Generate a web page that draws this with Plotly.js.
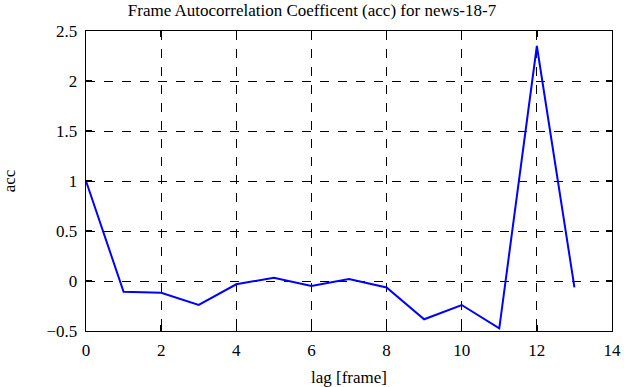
<!DOCTYPE html>
<html><head><meta charset="utf-8">
<script src="https://cdn.plot.ly/plotly-3.0.1.min.js"></script>
<style>html,body{margin:0;padding:0;background:#fff}#chart{width:624px;height:387px}</style>
</head><body><div id="chart"></div>
<script>
const lags = [0,1,2,3,4,5,6,7,8,9,10,11,12,13];
const acc = [1.0,-0.107,-0.117,-0.24,-0.033,0.033,-0.05,0.02,-0.065,-0.383,-0.24,-0.473,2.35,-0.063];
const titleText = 'Frame Autocorrelation Coefficent (acc) for news-18-7';
const xLabel = 'lag [frame]';
const yLabel = 'acc';
const fnt = 'Liberation Serif, Times New Roman, serif';
const axisCommon = {
  showline:true, linecolor:'#000', linewidth:1.3, mirror:'ticks',
  ticks:'inside', ticklen:6, tickcolor:'#000', tickwidth:1.3,
  showgrid:true, gridcolor:'#000', griddash:'dash', gridwidth:1,
  zeroline:false, tickfont:{family:fnt,size:17,color:'#000'}
};
Plotly.newPlot('chart',[{
  x:lags, y:acc, type:'scatter', mode:'lines',
  line:{color:'#0000ff', width:2}
}],{
  width:624, height:387,
  margin:{l:86,r:12,t:31,b:56},
  paper_bgcolor:'#fff', plot_bgcolor:'#fff',
  showlegend:false,
  title:{text:titleText, font:{family:fnt,size:17,color:'#000'}, x:0.5, xref:'container', y:0.975, yanchor:'middle', xanchor:'center'},
  xaxis:Object.assign({}, axisCommon, {range:[0,14], dtick:2, tick0:0, ticklabelstandoff:3,
    title:{text:xLabel, font:{family:fnt,size:17,color:'#000'}, standoff:14}}),
  yaxis:Object.assign({}, axisCommon, {range:[-0.5,2.5], dtick:0.5, tick0:0, ticklabelstandoff:4,
    title:{text:yLabel, font:{family:fnt,size:17,color:'#000'}, standoff:28}})
},{displayModeBar:false, staticPlot:true});
</script></body></html>
